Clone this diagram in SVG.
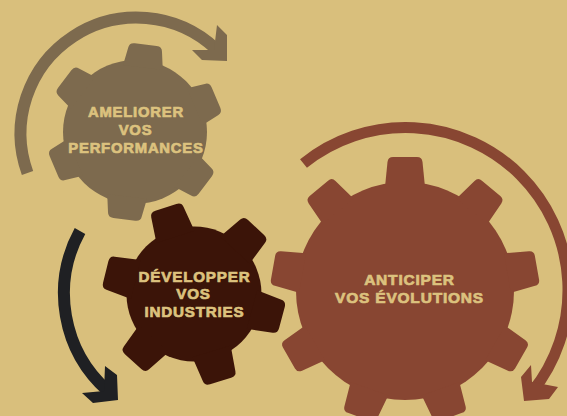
<svg xmlns="http://www.w3.org/2000/svg" xmlns:xlink="http://www.w3.org/1999/xlink" width="567" height="416" viewBox="0 0 567 416">
<style>
.lbl{font-family:"Liberation Sans",Arial,sans-serif;font-weight:700;fill:#dcc27e;stroke:#dcc27e;stroke-width:.7;text-anchor:middle;letter-spacing:.8px}
.s1{font-size:14.800px}
.s2{font-size:15.200px}
.s3{font-size:15.500px}
.arc{fill:none;stroke-width:12}
</style>
<defs>
<path id="t1" d="M-20,-65 L-17,-83 Q-16.500,-88 -11,-88 L11,-88 Q16.500,-88 17,-83 L20,-65 Z"/>
<path id="t2" d="M-20,-60 L-17,-86 Q-16.500,-91 -11,-91 L11,-91 Q16.500,-91 17,-86 L20,-60 Z"/>
<path id="t3" d="M-20,-104 L-17.500,-129 Q-17,-134 -12,-134 L12,-134 Q17,-134 17.500,-129 L20,-104 Z"/>
</defs>
<rect width="567" height="416" fill="#d9bf7c"/>
<g id="connectors">
<g id="arrow-1" fill="#7d6a4e" stroke="#7d6a4e">
<path class="arc" d="M27.500,173 A116,116 0 0 1 216,49"/>
<polygon stroke="none" points="217,25 227,35 227,61 202,60 192,50 214,50"/>
</g>
<g id="arrow-2" fill="#1f2023" stroke="#1f2023">
<path class="arc" d="M80,231 A130,130 0 0 0 108,391"/>
<polygon stroke="none" points="105,366 117,375 118,400 93,403 82,393 104,391"/>
</g>
<g id="arrow-3" fill="#884632" stroke="#884632">
<path class="arc" style="stroke-width:11" d="M303.500,163.500 A162.500,162.500 0 0 1 532,392"/>
<polygon stroke="none" points="531,365 521,377 524,401 549,399 558,387 532,382"/>
</g>
</g>
<g id="gear-ameliorer" fill="#7d6a4e">
<circle cx="135" cy="132" r="72"/>
<use xlink:href="#t1" href="#t1" transform="translate(135 132) rotate(7)"/>
<use xlink:href="#t1" href="#t1" transform="translate(135 132) rotate(67)"/>
<use xlink:href="#t1" href="#t1" transform="translate(135 132) rotate(127)"/>
<use xlink:href="#t1" href="#t1" transform="translate(135 132) rotate(187)"/>
<use xlink:href="#t1" href="#t1" transform="translate(135 132) rotate(247)"/>
<use xlink:href="#t1" href="#t1" transform="translate(135 132) rotate(307)"/>
<text class="lbl s1" x="136" y="117">AMELIORER</text>
<text class="lbl s1" x="135.500" y="135">VOS</text>
<text class="lbl s1" x="136" y="153">PERFORMANCES</text>
</g>
<g id="gear-developper" fill="#3b1408">
<circle cx="194" cy="294" r="67.500"/>
<use xlink:href="#t2" href="#t2" transform="translate(194 294) rotate(-18)"/>
<use xlink:href="#t2" href="#t2" transform="translate(194 294) rotate(43)"/>
<use xlink:href="#t2" href="#t2" transform="translate(194 294) rotate(105)"/>
<use xlink:href="#t2" href="#t2" transform="translate(194 294) rotate(163)"/>
<use xlink:href="#t2" href="#t2" transform="translate(194 294) rotate(222)"/>
<use xlink:href="#t2" href="#t2" transform="translate(194 294) rotate(284)"/>
<text class="lbl s2" x="194.500" y="282">DÉVELOPPER</text>
<text class="lbl s2" x="193.500" y="299">VOS</text>
<text class="lbl s2" x="194.500" y="317">INDUSTRIES</text>
</g>
<g id="gear-anticiper" fill="#884632">
<circle cx="405" cy="291" r="109"/>
<use xlink:href="#t3" href="#t3" transform="translate(405 291)"/>
<use xlink:href="#t3" href="#t3" transform="translate(405 291) rotate(40)"/>
<use xlink:href="#t3" href="#t3" transform="translate(405 291) rotate(80)"/>
<use xlink:href="#t3" href="#t3" transform="translate(405 291) rotate(120)"/>
<use xlink:href="#t3" href="#t3" transform="translate(405 291) rotate(160)"/>
<use xlink:href="#t3" href="#t3" transform="translate(405 291) rotate(200)"/>
<use xlink:href="#t3" href="#t3" transform="translate(405 291) rotate(240)"/>
<use xlink:href="#t3" href="#t3" transform="translate(405 291) rotate(280)"/>
<use xlink:href="#t3" href="#t3" transform="translate(405 291) rotate(320)"/>
<text class="lbl s3" x="409.500" y="285">ANTICIPER</text>
<text class="lbl s3" x="409.500" y="303">VOS ÉVOLUTIONS</text>
</g>
</svg>
